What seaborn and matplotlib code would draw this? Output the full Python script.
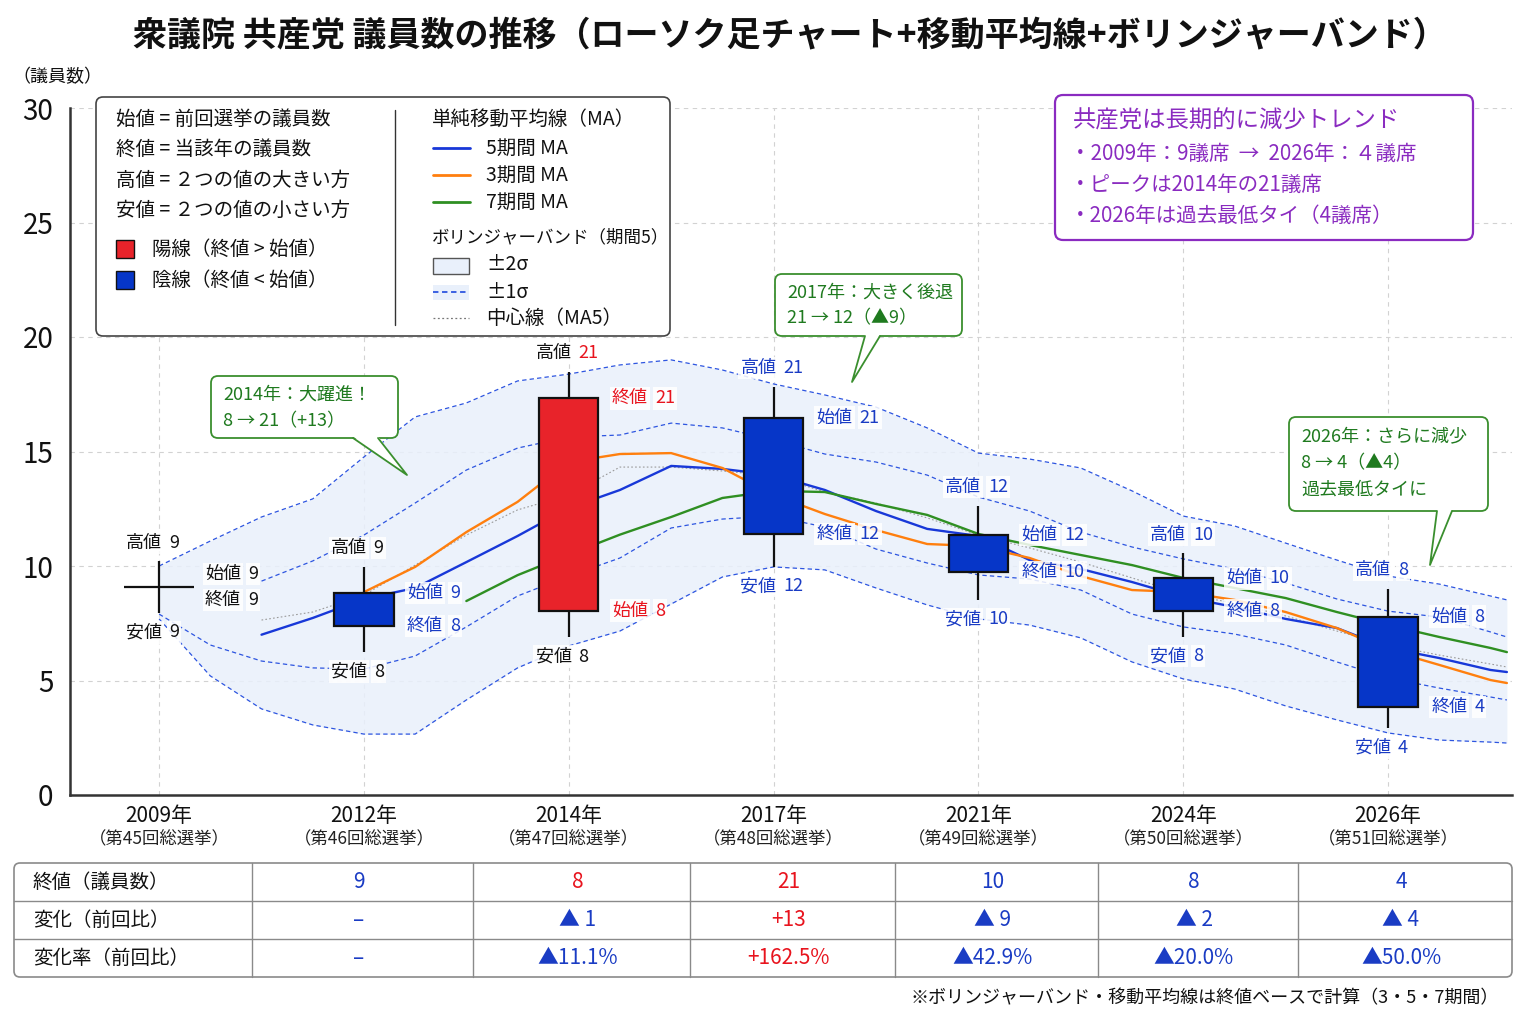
import numpy as np
import pandas as pd
import matplotlib
matplotlib.use("Agg")
import matplotlib.pyplot as plt
import matplotlib.transforms as mtransforms
from matplotlib.patches import FancyBboxPatch, Rectangle, Polygon
from matplotlib.lines import Line2D
import seaborn as sns

# ---------------- data ----------------
years = ["2009年", "2012年", "2014年", "2017年", "2021年", "2024年", "2026年"]
elections = ["（第45回総選挙）", "（第46回総選挙）", "（第47回総選挙）", "（第48回総選挙）",
             "（第49回総選挙）", "（第50回総選挙）", "（第51回総選挙）"]

# candles as drawn
candle_open = [9.08, 8.82, 8.05, 16.48, 11.35, 9.46, 7.79]
candle_close = [9.08, 7.38, 17.32, 11.40, 9.72, 8.05, 3.84]
candle_high = [10.2, 9.96, 18.49, 17.83, 12.62, 10.55, 9.0]
candle_low = [7.95, 6.24, 6.89, 9.97, 8.52, 6.91, 2.91]

# values printed beside the candles
label_open = [9, 9, 8, 21, 12, 10, 8]
label_close = [9, 8, 21, 12, 10, 8, 4]
label_high = [9, 9, 21, 21, 12, 10, 8]
label_low = [9, 8, 8, 12, 10, 8, 4]

# bands and moving averages
nan = np.nan
curve_x = [0.0, 0.25, 0.5, 0.75, 1.0, 1.25, 1.5, 1.75, 2.0, 2.25, 2.5, 2.75, 3.0, 3.25,
           3.5, 3.75, 4.0, 4.25, 4.5, 4.75, 5.0, 5.25, 5.5, 5.75, 6.0, 6.25, 6.5, 6.58]
band_upper2 = [10.0, 11.09, 12.14, 12.93, 14.76, 16.51, 17.12, 18.08, 18.38, 18.78, 19.0, 18.56,
               17.95, 17.47, 16.94, 16.03, 14.93, 14.67, 14.28, 13.28, 12.18, 11.75, 11.0, 10.26,
               9.56, 9.21, 8.69, 8.52]
band_lower2 = [7.69, 5.2, 3.76, 3.06, 2.66, 2.66, 4.15, 5.55, 6.51, 7.16, 8.34, 9.52, 9.96, 9.83,
               9.04, 8.3, 7.69, 7.42, 6.86, 5.81, 5.07, 4.63, 3.89, 3.28, 2.71, 2.4, 2.31, 2.27]
band_upper1 = [nan, nan, 9.34, 10.22, 11.35, 12.75, 14.19, 15.15, 15.63, 15.72, 16.24, 16.03,
               15.5, 14.89, 14.54, 13.97, 13.01, 12.4, 11.48, 10.83, 10.31, 9.87, 9.26, 8.56,
               8.03, 7.77, 7.12, 6.9]
band_lower1 = [7.9, 6.55, 5.85, 5.55, 5.5, 6.07, 7.34, 8.69, 9.56, 10.35, 11.66, 12.05, 12.18,
               11.7, 10.74, 10.13, 9.61, 9.43, 8.95, 7.9, 7.34, 7.03, 6.55, 5.81, 5.11, 4.67,
               4.28, 4.15]
band_center = [nan, nan, 7.64, 7.99, 8.73, 10.04, 11.35, 12.45, 13.1, 14.32, 14.32, 14.15, 13.93,
               13.23, 12.75, 12.1, 11.35, 10.79, 10.17, 9.48, 8.78, 8.38, 7.82, 7.16, 6.55, 6.11,
               5.72, 5.59]
ma5 = [nan, nan, 7.0, 7.73, 8.56, 9.04, 10.17, 11.31, 12.53, 13.32, 14.37, 14.24, 13.97, 13.32,
       12.4, 11.62, 11.31, 10.26, 9.87, 9.3, 8.65, 8.21, 7.69, 7.29, 6.42, 5.98, 5.46, 5.37]
ma3 = [nan, nan, nan, nan, 8.86, 9.96, 11.48, 12.8, 14.54, 14.89, 14.93, 14.28, 13.1, 12.27,
       11.57, 10.96, 10.87, 10.35, 9.56, 8.95, 8.86, 8.52, 7.99, 7.29, 6.33, 5.68, 5.02, 4.89]
ma7 = [nan, nan, nan, nan, nan, nan, 8.47, 9.6, 10.5, 11.37, 12.14, 12.97, 13.28, 13.23, 12.71,
       12.23, 11.4, 10.92, 10.48, 10.04, 9.48, 9.04, 8.6, 7.99, 7.42, 6.9, 6.42, 6.24]

# table below the chart
table_rows = ["終値（議員数）", "変化（前回比）", "変化率（前回比）"]
table_close = ["9", "8", "21", "10", "8", "4"]
table_change = ["–", "▲ 1", "+13", "▲ 9", "▲ 2", "▲ 4"]
table_rate = ["–", "▲11.1%", "+162.5%", "▲42.9%", "▲20.0%", "▲50.0%"]

# ---------------- style ----------------
sns.set_theme(style="white")
plt.rcParams["font.family"] = ["Noto Sans CJK JP", "DejaVu Sans"]
plt.rcParams["axes.unicode_minus"] = False

RED = "#e8232a"
BLUE = "#0636c8"
TBLUE = "#1a3cc4"
TRED = "#e8141e"
GREEN_T = "#1f7a1f"
GREEN_E = "#3a8f2e"
PURPLE = "#8a2bc0"
BAND = "#e9f0fb"
BANDLINE = "#2d55e0"
C_MA5 = "#1838d8"
C_MA3 = "#ff7f0e"
C_MA7 = "#2f8f22"

fig = plt.figure(figsize=(15.36, 10.24), dpi=100)
fig.patch.set_facecolor("white")
ax = fig.add_axes([70 / 1536, 1 - 795 / 1024, (1512 - 70) / 1536, (795 - 108) / 1024])
px = mtransforms.Affine2D().scale(1 / 100.0, -1 / 100.0).translate(0, 10.24) + fig.dpi_scale_trans

# ---------------- bands ----------------
cx = np.array(curve_x)
ax.fill_between(cx, band_lower2, band_upper2, color=BAND, alpha=0.85, lw=0, zorder=1)
dash = (0, (3.5, 2.5))
for arr in (band_upper2, band_lower2, band_upper1, band_lower1):
    ax.plot(cx, arr, color=BANDLINE, lw=0.9, linestyle=dash, zorder=2)
ax.plot(cx, band_center, color="#9a9a9a", lw=0.8, linestyle=(0, (1.5, 2)), zorder=2)

# ---------------- moving averages (seaborn) ----------------
df = pd.DataFrame({"x": curve_x, "5期間 MA": ma5, "3期間 MA": ma3, "7期間 MA": ma7})
long = df.melt(id_vars="x", var_name="series", value_name="y").dropna()
sns.lineplot(data=long, x="x", y="y", hue="series", sort=False, estimator=None,
             palette={"5期間 MA": C_MA5, "3期間 MA": C_MA3, "7期間 MA": C_MA7},
             linewidth=1.7, legend=False, ax=ax, zorder=3)

# ---------------- candles ----------------
xs = np.arange(len(years))
body_w = 0.29
for i in xs:
    o, c, h, l = candle_open[i], candle_close[i], candle_high[i], candle_low[i]
    ax.vlines(i, l, h, color="#111111", lw=1.6, zorder=4)
    if o == c:
        ax.hlines(o, i - 0.17, i + 0.17, color="#111111", lw=1.6, zorder=5)
    else:
        col = RED if c > o else BLUE
        ax.bar(i, abs(c - o), bottom=min(o, c), width=body_w, color=col,
               edgecolor="#111111", linewidth=1.6, zorder=5)

# ---------------- candle labels ----------------
word_col = ["#111111", "#111111", "#111111", TBLUE, TBLUE, TBLUE, TBLUE]
high_num_col = ["#111111", "#111111", TRED, TBLUE, TBLUE, TBLUE, TBLUE]
low_num_col = ["#111111", "#111111", "#111111", TBLUE, TBLUE, TBLUE, TBLUE]
oc_col = ["#111111", TBLUE, TRED, TBLUE, TBLUE, TBLUE, TBLUE]
bb = dict(boxstyle="square,pad=0.12", fc="white", ec="none", alpha=0.85)
LFS = 13


def lab(x, y, word, num, wc, nc, dx, dy, centered):
    kw = dict(xycoords="data", textcoords="offset points", fontsize=LFS, va="center",
              zorder=7, bbox=bb)
    if centered:
        ax.annotate(word, (x, y), xytext=(dx + 2, dy), ha="right", color=wc, **kw)
        ax.annotate(str(num), (x, y), xytext=(dx + 7, dy), ha="left", color=nc, **kw)
    else:
        ax.annotate(word, (x, y), xytext=(dx, dy), ha="left", color=wc, **kw)
        ax.annotate(str(num), (x, y), xytext=(dx + 31, dy), ha="left", color=nc, **kw)


for i in xs:
    lab(i, candle_high[i], "高値", label_high[i], word_col[i], high_num_col[i], 0, 13.5, True)
    lab(i, candle_low[i], "安値", label_low[i], word_col[i], low_num_col[i], 0, -14, True)
    if candle_open[i] == candle_close[i]:
        lab(i, candle_open[i], "始値", label_open[i], oc_col[i], oc_col[i], 33, 9.5, False)
        lab(i, candle_close[i], "終値", label_close[i], oc_col[i], oc_col[i], 33, -9.5, False)
    else:
        lab(i, candle_open[i], "始値", label_open[i], oc_col[i], oc_col[i], 31, 0, False)
        lab(i, candle_close[i], "終値", label_close[i], oc_col[i], oc_col[i], 31, 0, False)

# ---------------- axes ----------------
ax.set_xlim(-0.435, 6.605)
ax.set_ylim(0, 30)
ax.set_yticks([0, 5, 10, 15, 20, 25, 30])
ax.set_yticklabels(["0", "5", "10", "15", "20", "25", "30"], fontsize=20)
ax.set_xticks(xs)
ax.set_xticklabels(years, fontsize=15)
ax.tick_params(axis="x", length=3, pad=4, colors="#111111")
ax.tick_params(axis="y", length=4, pad=8, colors="#111111")
ax.grid(True, color="#d2d2d2", linestyle=(0, (4, 4)), linewidth=0.8)
ax.set_axisbelow(True)
for s in ("top", "right"):
    ax.spines[s].set_visible(False)
for s in ("left", "bottom"):
    ax.spines[s].set_color("#333333")
    ax.spines[s].set_linewidth(1.8)
ax.set_xlabel("")
ax.set_ylabel("")
trans = mtransforms.blended_transform_factory(ax.transData, ax.transAxes)
for i in xs:
    ax.text(i, -0.064, elections[i], transform=trans, ha="center", va="center",
            fontsize=12.5, color="#222222")

# ---------------- titles ----------------
fig.text(790, 35, "衆議院 共産党 議員数の推移（ローソク足チャート+移動平均線+ボリンジャーバンド）",
         transform=px, ha="center", va="center", fontsize=24.5, fontweight="bold", color="#111111")
fig.text(12, 77, "（議員数）", transform=px, ha="left", va="center", fontsize=13, color="#111111")

# ---------------- legend box ----------------
fig.add_artist(FancyBboxPatch((96, 97), 574, 239, boxstyle="round,pad=0,rounding_size=7",
                              transform=px, fc="white", ec="#444444", lw=1.2, zorder=5))
lt = dict(transform=px, ha="left", va="center", fontsize=14, color="#111111", zorder=6)
for y, t in zip([119, 149, 180, 210], ["始値 = 前回選挙の議員数", "終値 = 当該年の議員数",
                                       "高値 = ２つの値の大きい方", "安値 = ２つの値の小さい方"]):
    fig.text(116, y, t, **lt)
fig.add_artist(Rectangle((116, 240), 18, 18, transform=px, fc=RED, ec="#111111", lw=1, zorder=6))
fig.add_artist(Rectangle((116, 271), 18, 18, transform=px, fc=BLUE, ec="#111111", lw=1, zorder=6))
fig.text(152, 249, "陽線（終値 > 始値）", **lt)
fig.text(152, 280, "陰線（終値 < 始値）", **lt)
fig.add_artist(Line2D([395, 395], [110, 325], transform=px, color="#333333", lw=1, zorder=6))
fig.text(432, 119, "単純移動平均線（MA）", **lt)
for y, c, t in zip([148, 175, 202], [C_MA5, C_MA3, C_MA7], ["5期間 MA", "3期間 MA", "7期間 MA"]):
    fig.add_artist(Line2D([433, 470], [y, y], transform=px, color=c, lw=2, zorder=6))
    fig.text(486, y, t, **lt)
fig.text(432, 237, "ボリンジャーバンド（期間5）", transform=px, ha="left", va="center",
         fontsize=12.6, color="#111111", zorder=6)
fig.add_artist(Rectangle((433, 258), 36, 16, transform=px, fc=BAND, ec="#555555", lw=1, zorder=6))
fig.text(486, 265, "±2σ", **lt)
fig.add_artist(Rectangle((433, 285), 36, 15, transform=px, fc=BAND, ec="none", zorder=6))
fig.add_artist(Line2D([433, 469], [292, 292], transform=px, color=BANDLINE, lw=1.3,
                      linestyle=(0, (3, 2)), zorder=7))
fig.text(486, 292, "±1σ", **lt)
fig.add_artist(Line2D([433, 469], [318, 318], transform=px, color="#777777", lw=0.9,
                      linestyle=(0, (1.5, 2)), zorder=7))
fig.text(486, 318, "中心線（MA5）", **lt)

# ---------------- summary box ----------------
fig.add_artist(FancyBboxPatch((1055, 95), 418, 145, boxstyle="round,pad=0,rounding_size=8",
                              transform=px, fc="white", ec=PURPLE, lw=1.6, zorder=5))
fig.text(1073, 121, "共産党は長期的に減少トレンド", transform=px, ha="left", va="center",
         fontsize=16.8, color=PURPLE, zorder=6)
for y, t in zip([154, 185, 216], ["・2009年：9議席  →  2026年：４議席",
                                   "・ピークは2014年の21議席",
                                   "・2026年は過去最低タイ（4議席）"]):
    fig.text(1070, y, t, transform=px, ha="left", va="center", fontsize=14.8, color=PURPLE, zorder=6)


# ---------------- callouts ----------------
def callout(x0, y0, w, h, base, tip, lines, ys):
    fig.add_artist(FancyBboxPatch((x0, y0), w, h, boxstyle="round,pad=0,rounding_size=7",
                                  transform=px, fc="white", ec=GREEN_E, lw=1.3, zorder=8))
    fig.add_artist(Polygon([(base[0], y0 + h - 1.5), (base[1], y0 + h - 1.5), tip], closed=True,
                           transform=px, fc="white", ec="none", zorder=9))
    fig.add_artist(Line2D([base[0], tip[0], base[1]], [y0 + h, tip[1], y0 + h], transform=px,
                          color=GREEN_E, lw=1.3, zorder=10))
    for t, y in zip(lines, ys):
        fig.text(x0 + 12, y, t, transform=px, ha="left", va="center", fontsize=13,
                 color=GREEN_T, zorder=11)


callout(211, 376, 187, 62, (353, 378), (407, 475), ["2014年：大躍進！", "8 → 21（+13）"], [395, 421])
callout(775, 274, 187, 62, (865, 880), (852, 382), ["2017年：大きく後退", "21 → 12（▲9）"], [293, 318])
callout(1289, 417, 199, 94, (1437, 1452), (1430, 565),
        ["2026年：さらに減少", "8 → 4（▲4）", "過去最低タイに"], [437, 463, 490])

# ---------------- table ----------------
fig.add_artist(FancyBboxPatch((14, 863), 1498, 114, boxstyle="round,pad=0,rounding_size=6",
                              transform=px, fc="white", ec="#8a8a8a", lw=1.2, zorder=5))
for y in (901, 939):
    fig.add_artist(Line2D([14, 1512], [y, y], transform=px, color="#8a8a8a", lw=1, zorder=6))
col_edges = [252, 473, 690, 895, 1098, 1298, 1512]
for x in col_edges[:-1]:
    fig.add_artist(Line2D([x, x], [863, 977], transform=px, color="#8a8a8a", lw=1, zorder=6))
row_y = [882, 920, 958]
for y, t in zip(row_y, table_rows):
    fig.text(33, y, t, transform=px, ha="left", va="center", fontsize=14, color="#111111", zorder=7)
row_cols = [[TBLUE, TRED, TRED, TBLUE, TBLUE, TBLUE],
            [TBLUE, TBLUE, TRED, TBLUE, TBLUE, TBLUE],
            [TBLUE, TBLUE, TRED, TBLUE, TBLUE, TBLUE]]
for r, vals in enumerate([table_close, table_change, table_rate]):
    for k, v in enumerate(vals):
        xc = (col_edges[k] + col_edges[k + 1]) / 2 - 4
        fig.text(xc, row_y[r], v, transform=px, ha="center", va="center", fontsize=15,
                 color=row_cols[r][k], zorder=7)

fig.text(1499, 998, "※ボリンジャーバンド・移動平均線は終値ベースで計算（3・5・7期間）",
         transform=px, ha="right", va="center", fontsize=13, color="#111111")

fig.savefig("out.png", dpi=100, facecolor="white")
